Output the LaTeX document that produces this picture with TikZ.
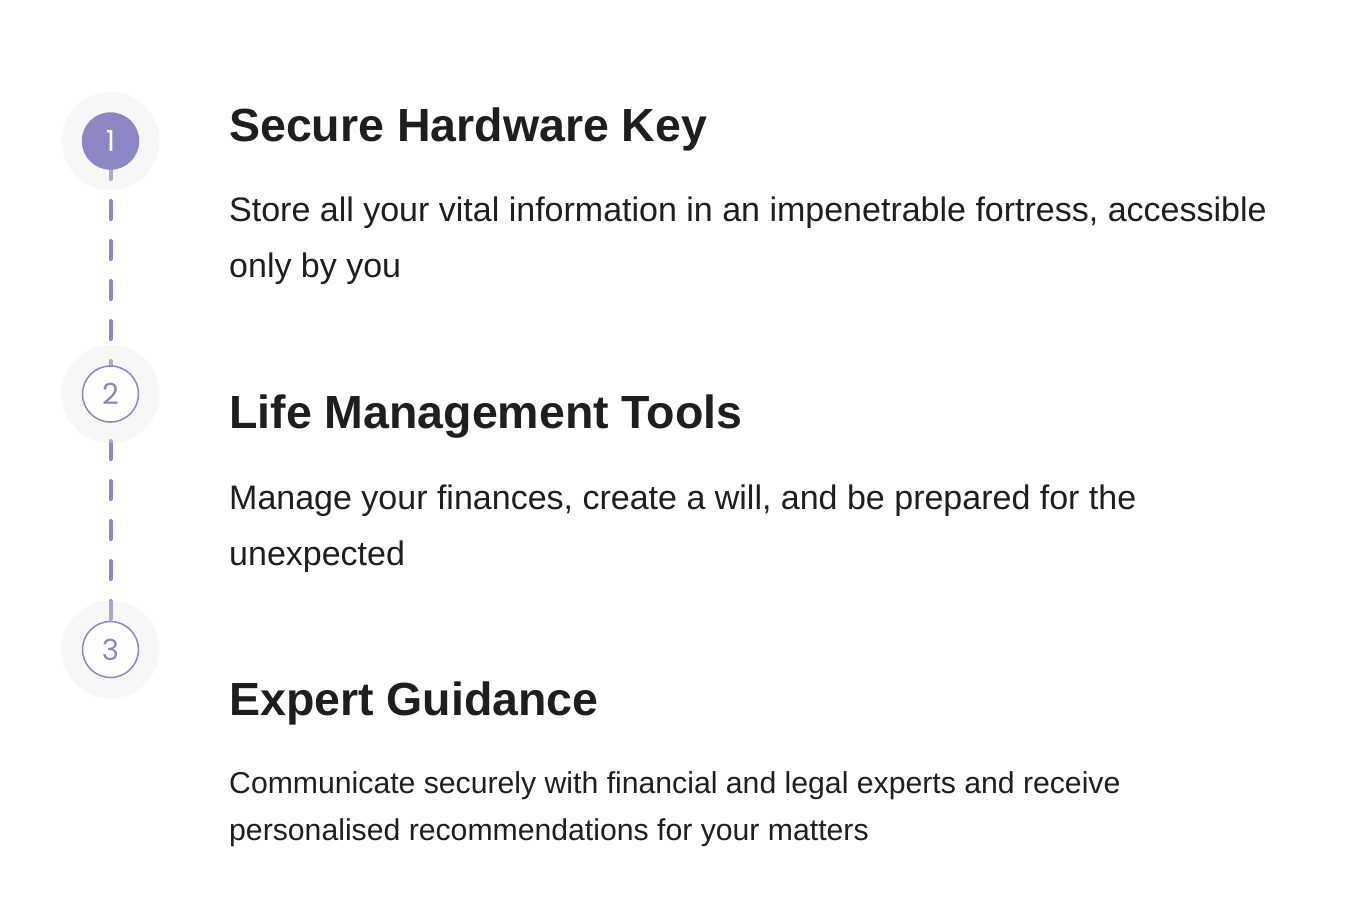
\documentclass[tikz,border=0pt]{standalone}
\usepackage{fontspec}
\setmainfont{Liberation Sans}
\newfontfamily\numfont{Poppins}
\usepackage{tikz}
\usetikzlibrary{arrows}
\definecolor{lavender}{HTML}{8A87C4}
\definecolor{halogray}{HTML}{E8E8E8}
\definecolor{inkgray}{HTML}{1E1E1E}
\tikzstyle{halo} = [circle, fill=halogray, fill opacity=0.35, minimum size=98pt, inner sep=0pt]
\tikzstyle{stepdone} = [circle, draw=lavender, fill=lavender, line width=1.5pt, minimum size=56pt,
inner sep=0pt, text=white, font=\numfont\fontsize{29}{29}\selectfont]
\tikzstyle{stepopen} = [circle, draw=lavender, fill=white, line width=1.5pt, minimum size=56pt,
inner sep=0pt, text=lavender, font=\numfont\fontsize{29}{29}\selectfont]
\tikzstyle{title} = [anchor=base west, inner sep=0pt, text=inkgray, font=\bfseries\fontsize{46.5}{56}\selectfont]
\tikzstyle{body} = [anchor=base west, inner sep=0pt, text=inkgray, align=left, font=\fontsize{34}{56}\selectfont]
\tikzstyle{small} = [anchor=base west, inner sep=0pt, text=inkgray, align=left, font=\fontsize{30.2}{47}\selectfont]
\tikzstyle{line} = [draw=lavender, line width=4pt, line cap=round, dash pattern=on 18pt off 22pt]

\begin{document}
\begin{tikzpicture}[x=1pt,y=-1pt]
\useasboundingbox (0,0) rectangle (1356,914);
% Place nodes
	\coordinate (c1) at (110.5,141);
	\coordinate (c2) at (110.5,394);
	\coordinate (c3) at (110.5,649.5);

% Draw edges
	\path [line, dash phase=20pt] (c1) -- (c2);
	\path [line, dash phase=33pt] (c2) -- (c3);

	\node [halo] (h1) at (c1) {};
	\node [halo] (h2) at (c2) {};
	\node [halo] (h3) at (c3) {};
	\node [stepdone] (s1) at (c1) {1};
	\node [stepopen] (s2) at (c2) {2};
	\node [stepopen] (s3) at (c3) {3};

% base of a two-line node is its last line
	\node [title] (t1) at (229,141) {Secure Hardware Key};
	\node [body]  (b1) at (229,277) {Store all your vital information in an impenetrable fortress, accessible\\only by you};
	\node [title] (t2) at (229,428) {Life Management Tools};
	\node [body]  (b2) at (229,565) {Manage your finances, create a will, and be prepared for the\\unexpected};
	\node [title] (t3) at (229,715) {Expert Guidance};
	\node [small] (b3) at (229,840) {Communicate securely with financial and legal experts and receive\\personalised recommendations for your matters};

\end{tikzpicture}
\end{document}
